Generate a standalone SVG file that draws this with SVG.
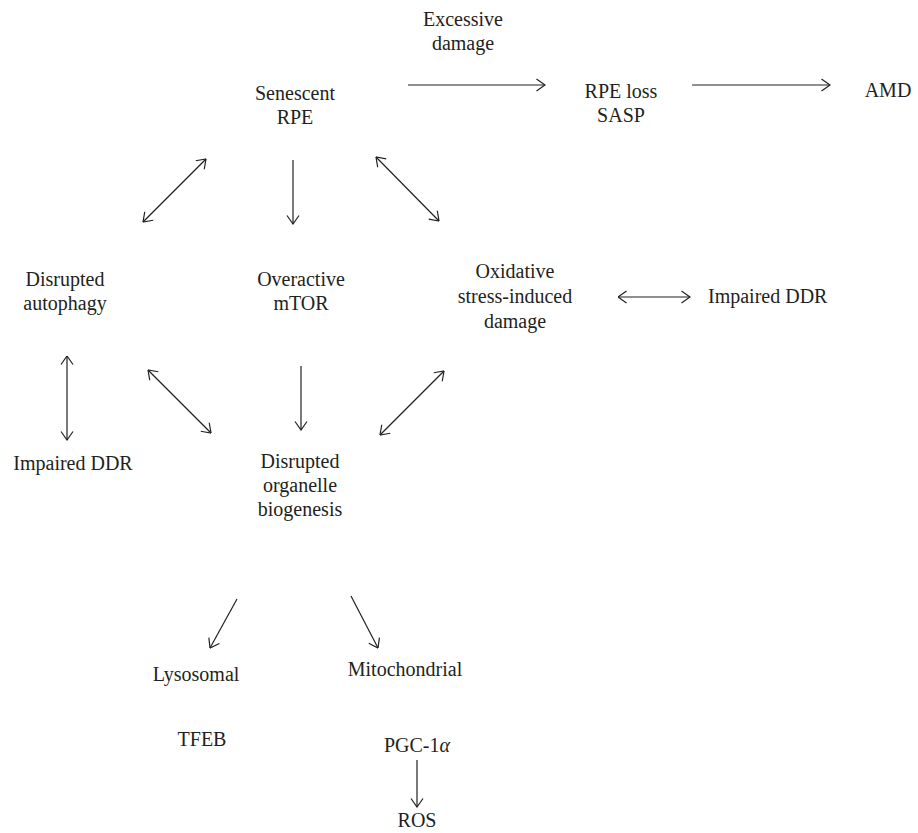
<svg xmlns="http://www.w3.org/2000/svg" width="918" height="833" viewBox="0 0 918 833">
<style>
text{font-family:"Liberation Serif","Times New Roman",serif;font-size:20px;fill:#231f20;text-anchor:middle}
.s{text-anchor:start}
line{stroke:#231f20;stroke-width:1.2;fill:none}
</style>
<defs>
<marker id="ah" viewBox="0 0 10 14" refX="9.5" refY="7" markerWidth="10" markerHeight="14" markerUnits="userSpaceOnUse" orient="auto-start-reverse">
<path d="M1,1 L9.5,7 L1,13" fill="none" stroke="#231f20" stroke-width="1.2"/>
</marker>
</defs>
<rect width="918" height="833" fill="#fff"/>
<g id="excessive"><text x="463" y="26">Excessive</text><text x="463" y="50">damage</text></g>
<g id="senescent"><text x="295" y="100">Senescent</text><text x="295" y="124">RPE</text></g>
<g id="rpeloss"><text x="621" y="98">RPE loss</text><text x="621" y="122">SASP</text></g>
<g id="amd"><text x="888" y="97">AMD</text></g>
<g id="autophagy"><text x="65" y="286">Disrupted</text><text x="65" y="310">autophagy</text></g>
<g id="mtor"><text x="301" y="286">Overactive</text><text x="301" y="310">mTOR</text></g>
<g id="oxidative"><text x="515" y="278">Oxidative</text><text x="515" y="303">stress-induced</text><text x="515" y="328">damage</text></g>
<g id="ddr-right"><text class="s" x="708" y="303">Impaired DDR</text></g>
<g id="ddr-left"><text x="73" y="470">Impaired DDR</text></g>
<g id="organelle"><text x="300" y="468">Disrupted</text><text x="300" y="492">organelle</text><text x="300" y="516">biogenesis</text></g>
<g id="lysosomal"><text x="196" y="681">Lysosomal</text></g>
<g id="mito"><text x="405" y="676">Mitochondrial</text></g>
<g id="tfeb"><text x="202" y="746">TFEB</text></g>
<g id="pgc"><text x="417" y="752">PGC-1<tspan font-style="italic">α</tspan></text></g>
<g id="ros"><text x="417" y="827">ROS</text></g>
<g id="connectors">
<line x1="408" y1="85" x2="545" y2="85" marker-end="url(#ah)"/>
<line x1="692" y1="85" x2="830" y2="85" marker-end="url(#ah)"/>
<line x1="143" y1="222" x2="206" y2="159" marker-start="url(#ah)" marker-end="url(#ah)"/>
<line x1="293" y1="160" x2="293" y2="224" marker-end="url(#ah)"/>
<line x1="376" y1="157" x2="439" y2="221" marker-start="url(#ah)" marker-end="url(#ah)"/>
<line x1="618" y1="297" x2="690" y2="297" marker-start="url(#ah)" marker-end="url(#ah)"/>
<line x1="67" y1="356" x2="67" y2="440" marker-start="url(#ah)" marker-end="url(#ah)"/>
<line x1="148" y1="370" x2="211" y2="433" marker-start="url(#ah)" marker-end="url(#ah)"/>
<line x1="301" y1="366" x2="301" y2="430" marker-end="url(#ah)"/>
<line x1="380" y1="435" x2="444" y2="371" marker-start="url(#ah)" marker-end="url(#ah)"/>
<line x1="237" y1="599" x2="210" y2="648" marker-end="url(#ah)"/>
<line x1="351" y1="596" x2="378" y2="648" marker-end="url(#ah)"/>
<line x1="417" y1="760" x2="417" y2="807" marker-end="url(#ah)"/>
</g>
</svg>
